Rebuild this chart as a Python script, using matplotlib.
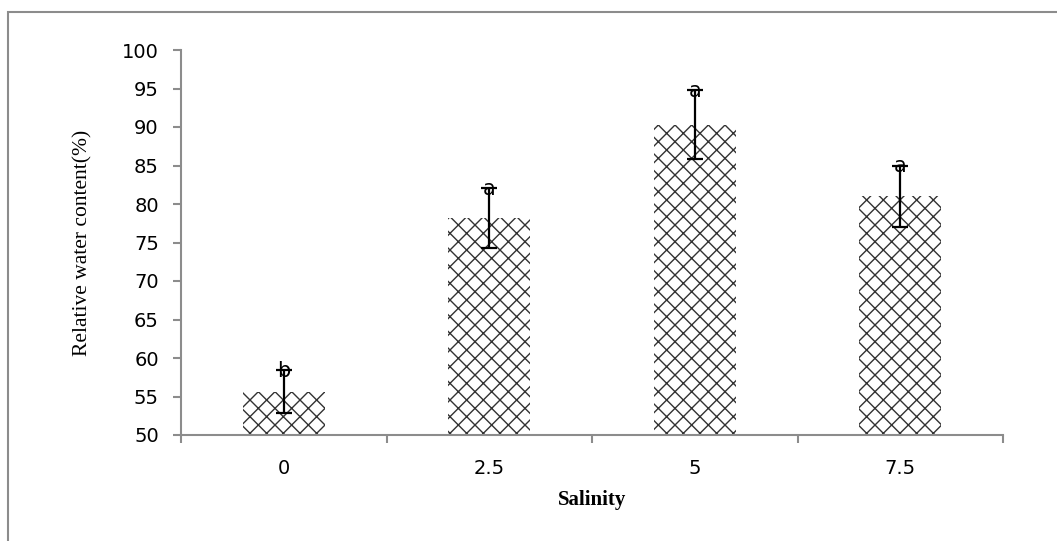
import matplotlib
matplotlib.use("Agg")
import matplotlib.pyplot as plt
from matplotlib.patches import Rectangle

categories = ["0", "2.5", "5", "7.5"]
means = [55.6, 78.2, 90.3, 81.0]
errors = [2.8, 3.9, 4.5, 4.0]
letters = ["b", "a", "a", "a"]
yticks = [50, 55, 60, 65, 70, 75, 80, 85, 90, 95, 100]

plt.rcParams['hatch.linewidth'] = 1.0
plt.rcParams['hatch.color'] = '#333333'
fig = plt.figure(figsize=(10.57, 5.41), dpi=100)
# outer frame
fig.patches.append(Rectangle((8/1057, -0.1), 1.2, 1 - 12/541 + 0.1, transform=fig.transFigure,
                             fill=False, edgecolor="#8c8c8c", linewidth=1.5))
ax = fig.add_axes([181/1057, 1 - 435/541, (1003 - 181)/1057, (435 - 50)/541])

x = list(range(len(categories)))
ax.bar(x, [m - 50 for m in means], bottom=50, width=0.4, color="white",
       edgecolor="#333333", hatch="xx", linewidth=0)
ax.errorbar(x, means, yerr=errors, fmt="none", ecolor="black", elinewidth=1.6,
            capsize=5.5, capthick=1.6)
for xi, m, e, l in zip(x, means, errors, letters):
    ax.text(xi, m + e - 0.9, l, ha="center", va="baseline", fontsize=15,
            family="DejaVu Sans")

ax.set_xlim(-0.5, len(categories) - 0.5)
ax.set_ylim(50, 100)
ax.set_yticks(yticks)
ax.set_yticklabels([str(v) for v in yticks], fontsize=14, family="DejaVu Sans")
ax.set_xticks(x)
ax.set_xticklabels(categories, fontsize=14, family="DejaVu Sans")
ax.tick_params(axis="x", length=0, pad=17)
ax.set_xticks([i - 0.5 for i in range(len(categories) + 1)], minor=True)
ax.tick_params(axis="x", which="minor", length=6, color="#8c8c8c", width=1.5, direction="out")
ax.tick_params(axis="y", length=6, color="#8c8c8c", width=1.5, direction="out", pad=10)

for s in ["top", "right"]:
    ax.spines[s].set_visible(False)
for s in ["left", "bottom"]:
    ax.spines[s].set_color("#8c8c8c")
    ax.spines[s].set_linewidth(1.5)

ax.set_xlabel("Salinity", fontsize=15, family="Liberation Serif", fontweight="bold", labelpad=9)
ax.set_ylabel("Relative water content(%)", fontsize=15.5, family="Liberation Serif", labelpad=21)

fig.savefig("out.png", dpi=100)
